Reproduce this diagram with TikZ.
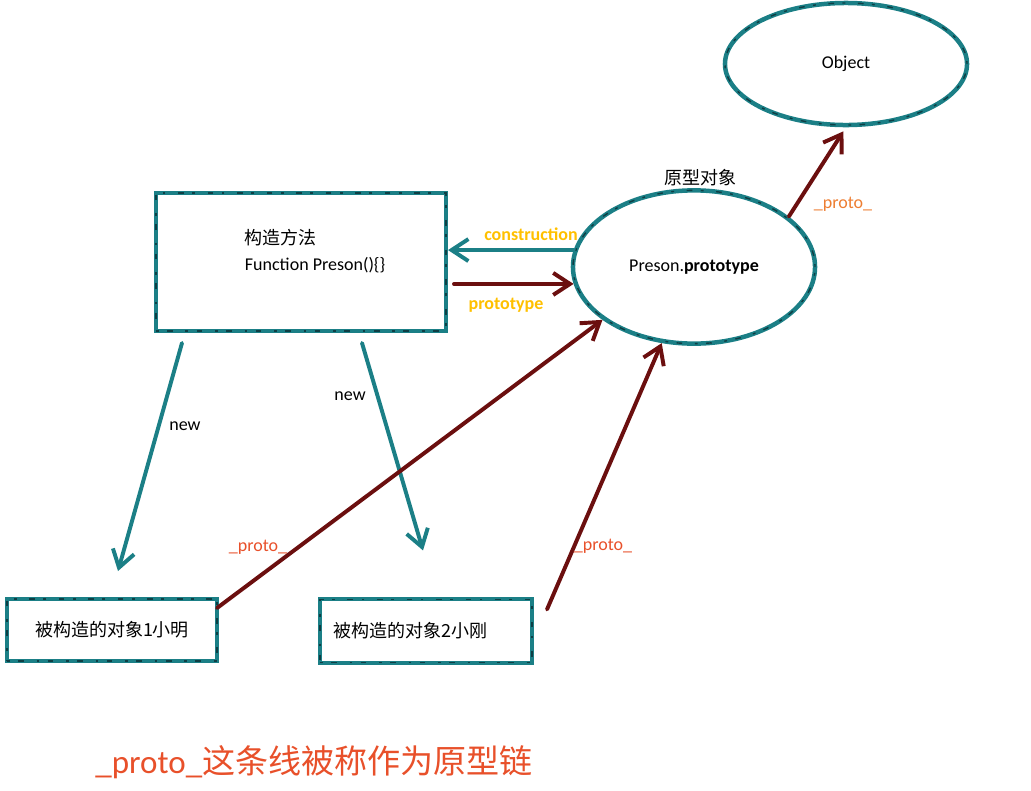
\documentclass[tikz,border=0pt]{standalone}
\usepackage{fontspec}
\setmainfont{Carlito}
\newfontfamily\cjk{Noto Sans CJK SC}
\usetikzlibrary{shapes.geometric,arrows.meta,positioning,calc}
\definecolor{tealline}{HTML}{1B7F86}
\definecolor{tealdark}{HTML}{0E3E44}
\definecolor{arrowred}{HTML}{6B0F0F}
\definecolor{labelgold}{HTML}{FFC000}
\definecolor{protored}{HTML}{E8502A}
\definecolor{protoorange}{HTML}{ED7D31}

\begin{document}
\begin{tikzpicture}[
    x=0.025cm, y=-0.025cm,
    font=\fontsize{12.8}{16}\selectfont,
    texture/.style={postaction={draw=tealdark, line width=1pt, dash pattern=on 2pt off 6pt on 4pt off 9pt}},
    box/.style={rectangle, draw=tealline, line width=2.8pt, inner sep=0pt, texture},
    blob/.style={ellipse, draw=tealline, line width=3.2pt, inner sep=0pt, texture},
    newarrow/.style={-{Straight Barb[length=0.42cm, width=0.55cm]}, draw=tealline, line width=2.8pt, line cap=round},
    protoarrow/.style={-{Straight Barb[length=0.42cm, width=0.55cm]}, draw=arrowred, line width=2.8pt, line cap=round},
    goldlabel/.style={text=labelgold, font=\fontsize{12.8}{16}\selectfont\bfseries},
    protolabel/.style={text=protored}
]
    \useasboundingbox (0,0) rectangle (1031,790);

    % nodes
    \node [box, minimum width=7.25cm, minimum height=3.45cm] (ctor) at (301,262) {};
    \node [align=left, anchor=west, font=\fontsize{12.8}{19}\selectfont] (ctortext) at (240,251) {{\cjk 构造方法}\\Function Preson()\{\}};
    \node [blob, minimum width=6.05cm, minimum height=3.83cm] (proto) at (694,267) {Preson.\textbf{prototype}};
    \node (protoname) at (700,178) {\cjk 原型对象};
    \node [blob, minimum width=6.05cm, minimum height=3.05cm] (object) at (846,64) {Object};
    \node [box, minimum width=5.25cm, minimum height=1.55cm] (obj1) at (112,630) {\cjk 被构造的对象1小明};
    \node [box, minimum width=5.3cm, minimum height=1.58cm, align=left, text width=4.6cm, inner xsep=0.35cm] (obj2) at (426,631) {\cjk 被构造的对象2小刚};

    % connectors
    \draw [newarrow] (proto.172) -- (ctor.east |- proto.172);
    \draw [protoarrow] ([xshift=0.15cm]ctor.east |- proto.188) -- (proto.188);
    \draw [newarrow] ($(ctor.south west)+(28,10)$) -- ($(obj1.north west)+(113,-26)$);
    \draw [newarrow] ($(ctor.south west)+(208,10)$) -- ($(obj2.north west)+(105,-47)$);
    \draw [protoarrow] ($(obj1.north east)+(-2,11)$) -- (proto.210);
    \draw [protoarrow] ($(obj2.north east)+(13,12)$) -- (proto.247);
    \draw [protoarrow, shorten >=0.12cm] (proto.28) -- (object.south);

    % labels
    \node [goldlabel] (lblconstr) at (531,234) {construction};
    \node [goldlabel] (lblproto) at (506,305) {prototype};
    \node (lblnew1) at (185,426) {new};
    \node (lblnew2) at (350,396) {new};
    \node [protolabel] (lblup1) at (258,547) {\_proto\_};
    \node [protolabel] (lblup2) at (603,546) {\_proto\_};
    \node [text=protoorange] (lblup3) at (843,204) {\_proto\_};
    \node [protolabel, font=\fontsize{23.5}{28}\selectfont] (caption) at (314,762) {\_proto\_{\cjk 这条线被称作为原型链}};
\end{tikzpicture}
\end{document}
